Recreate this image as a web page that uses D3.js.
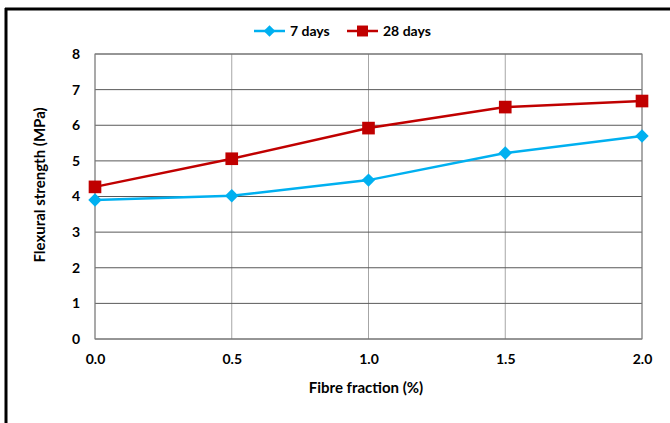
<!DOCTYPE html>
<html>
<head>
<meta charset="utf-8">
<script src="https://cdn.jsdelivr.net/npm/d3@7"></script>
<style>
  body { margin: 0; background: #fff; }
  svg text { font-family: Lato, "Open Sans", sans-serif; font-weight: bold; fill: #000; }
</style>
</head>
<body>
<div id="chart"></div>
<script>
const fibre = [0.0, 0.5, 1.0, 1.5, 2.0];
const days7 = [3.9, 4.02, 4.46, 5.22, 5.7];
const days28 = [4.27, 5.06, 5.92, 6.51, 6.68];
const xTicks = [0.0, 0.5, 1.0, 1.5, 2.0];
const yTicks = [0, 1, 2, 3, 4, 5, 6, 7, 8];

const width = 670, height = 423;
const plotLeft = 95, plotRight = 642, plotTop = 54, plotBottom = 339;

const svg = d3.select('#chart').append('svg')
    .attr('width', width)
    .attr('height', height);

// outer frame (top + left only)
svg.append('line').attr('x1', 5).attr('x2', 670).attr('y1', 9).attr('y2', 9)
    .attr('stroke', '#000').attr('stroke-width', 3);
svg.append('line').attr('x1', 6).attr('x2', 6).attr('y1', 8).attr('y2', 423)
    .attr('stroke', '#000').attr('stroke-width', 3);

const x = d3.scaleLinear().domain([0, 2]).range([plotLeft, plotRight]);
const y = d3.scaleLinear().domain([0, 8]).range([plotBottom, plotTop]);

// gridlines
svg.append('g').selectAll('line').data(xTicks).enter().append('line')
    .attr('x1', d => x(d)).attr('x2', d => x(d))
    .attr('y1', plotTop).attr('y2', plotBottom)
    .attr('stroke', '#a6a6a6').attr('stroke-width', 1);
svg.append('g').selectAll('line').data(yTicks).enter().append('line')
    .attr('x1', plotLeft).attr('x2', plotRight)
    .attr('y1', d => y(d)).attr('y2', d => y(d))
    .attr('stroke', '#595959').attr('stroke-width', 1);
svg.append('rect').attr('x', plotLeft).attr('y', plotTop)
    .attr('width', plotRight - plotLeft).attr('height', plotBottom - plotTop)
    .attr('fill', 'none').attr('stroke', '#808080').attr('stroke-width', 1);

// axes
const xAxis = svg.append('g')
    .attr('transform', `translate(0,${plotBottom})`)
    .call(d3.axisBottom(x).tickValues(xTicks).tickFormat(d3.format('.1f')).tickSize(0).tickPadding(15));
xAxis.select('.domain').remove();
xAxis.selectAll('text').style('font-size', '14px');

const yAxis = svg.append('g')
    .attr('transform', `translate(${plotLeft},0)`)
    .call(d3.axisLeft(y).tickValues(yTicks).tickFormat(d3.format('d')).tickSize(0).tickPadding(15));
yAxis.select('.domain').remove();
yAxis.selectAll('text').style('font-size', '14px');

svg.append('text')
    .attr('x', 366).attr('y', 393)
    .attr('text-anchor', 'middle').style('font-size', '15px')
    .text('Fibre fraction (%)');
svg.append('text')
    .attr('transform', 'translate(45,185) rotate(-90)')
    .attr('text-anchor', 'middle').style('font-size', '15px')
    .text('Flexural strength (MPa)');

const line = d3.line().x((d, i) => x(fibre[i])).y(d => y(d));
const series = [
    { name: '7 days', values: days7, color: '#00b0f0', rot: 45, size: 90 },
    { name: '28 days', values: days28, color: '#c00000', rot: 0, size: 160 }
];

series.forEach(s => {
    svg.append('path').datum(s.values)
        .attr('d', line)
        .attr('fill', 'none')
        .attr('stroke', s.color)
        .attr('stroke-width', 2.5);
    svg.append('g').selectAll('path').data(s.values).enter().append('path')
        .attr('transform', (d, i) => `translate(${x(fibre[i])},${y(d)}) rotate(${s.rot})`)
        .attr('d', d3.symbol().type(d3.symbolSquare).size(s.size))
        .attr('fill', s.color);
});

// legend
const legendX = [254, 347];
series.forEach((s, i) => {
    const g = svg.append('g').attr('transform', `translate(${legendX[i]},31)`);
    g.append('line').attr('x1', 0).attr('x2', 31).attr('y1', 0).attr('y2', 0)
        .attr('stroke', s.color).attr('stroke-width', 2.5);
    g.append('path').attr('transform', `translate(15.5,0) rotate(${s.rot})`)
        .attr('d', d3.symbol().type(d3.symbolSquare).size(s.size * 0.75))
        .attr('fill', s.color);
    g.append('text').attr('x', 36).attr('y', 5).style('font-size', '14px').text(s.name);
});
</script>
</body>
</html>
